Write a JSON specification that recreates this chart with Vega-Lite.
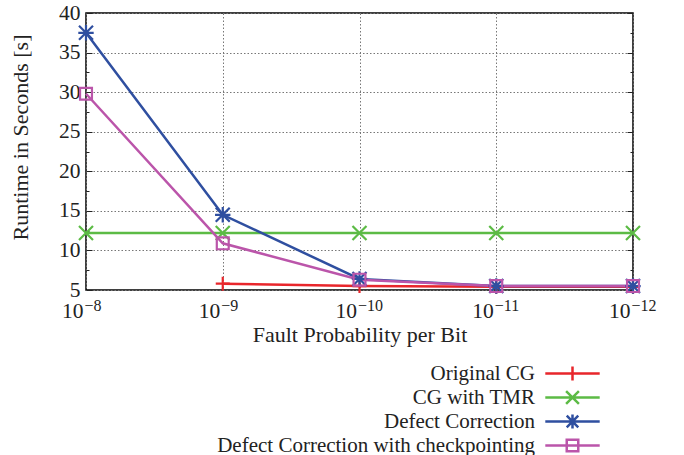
{
  "$schema": "https://vega.github.io/schema/vega-lite/v6.json",
  "width": 547,
  "height": 277,
  "autosize": "none",
  "padding": {"left": 86, "top": 13, "right": 51, "bottom": 165},
  "background": "white",
  "config": {
    "font": "Liberation Serif",
    "view": {"stroke": "black", "strokeWidth": 1.5},
    "axis": {
      "labelFont": "Liberation Serif",
      "titleFont": "Liberation Serif",
      "labelFontSize": 21.5,
      "titleFontSize": 22,
      "labelColor": "#222",
      "titleColor": "#222",
      "titleFontWeight": "normal",
      "domain": false,
      "tickColor": "#222"
    },
    "legend": {
      "labelFont": "Liberation Serif",
      "labelFontSize": 21,
      "labelColor": "#222"
    }
  },
  "data": {
    "values": [
      {"series": "Original CG", "exp": 9, "runtime": 5.8},
      {"series": "Original CG", "exp": 10, "runtime": 5.5},
      {"series": "Original CG", "exp": 11, "runtime": 5.4},
      {"series": "Original CG", "exp": 12, "runtime": 5.4},
      {"series": "CG with TMR", "exp": 8, "runtime": 12.2},
      {"series": "CG with TMR", "exp": 9, "runtime": 12.2},
      {"series": "CG with TMR", "exp": 10, "runtime": 12.2},
      {"series": "CG with TMR", "exp": 11, "runtime": 12.2},
      {"series": "CG with TMR", "exp": 12, "runtime": 12.2},
      {"series": "Defect Correction", "exp": 8, "runtime": 37.5},
      {"series": "Defect Correction", "exp": 9, "runtime": 14.5},
      {"series": "Defect Correction", "exp": 10, "runtime": 6.4},
      {"series": "Defect Correction", "exp": 11, "runtime": 5.5},
      {"series": "Defect Correction", "exp": 12, "runtime": 5.5},
      {"series": "Defect Correction with checkpointing", "exp": 8, "runtime": 29.8},
      {"series": "Defect Correction with checkpointing", "exp": 9, "runtime": 10.9},
      {"series": "Defect Correction with checkpointing", "exp": 10, "runtime": 6.3},
      {"series": "Defect Correction with checkpointing", "exp": 11, "runtime": 5.5},
      {"series": "Defect Correction with checkpointing", "exp": 12, "runtime": 5.5}
    ]
  },
  "resolve": {
    "scale": {"shape": "independent"},
    "axis": {"x": "independent", "y": "independent"},
    "legend": {"color": "independent", "shape": "independent"}
  },
  "layer": [
    {
      "mark": {"type": "line", "strokeWidth": 2.5, "clip": false},
      "encoding": {
        "x": {
          "field": "exp", "type": "quantitative",
          "scale": {"domain": [8, 12], "nice": false, "zero": false},
          "axis": {
            "orient": "bottom",
            "title": "Fault Probability per Bit",
            "values": [8, 9, 10, 11, 12],
            "labelExpr": "'10'",
            "labelAlign": "right",
            "labelBaseline": "alphabetic",
            "labelOffset": -3,
            "ticks": false,
            "labelPadding": 27,
            "titlePadding": 3,
            "grid": true,
            "gridColor": "#777",
            "gridDash": [1.5, 2],
            "gridWidth": 1
          }
        },
        "y": {
          "field": "runtime", "type": "quantitative",
          "scale": {"domain": [5, 40], "nice": false, "zero": false},
          "axis": {
            "title": "Runtime in Seconds [s]",
            "orient": "left",
            "values": [5, 7.5, 10, 12.5, 15, 17.5, 20, 22.5, 25, 27.5, 30, 32.5, 35, 37.5, 40],
            "labelExpr": "datum.value % 5 == 0 ? datum.label : ''",
            "tickSize": {"condition": {"test": "datum.value % 5 == 0", "value": -6}, "value": -3},
            "labelPadding": 12,
            "titlePadding": 26,
            "titleY": 124,
            "grid": true,
            "gridColor": "#777",
            "gridDash": [1.5, 2],
            "gridWidth": 1,
            "gridOpacity": {"condition": {"test": "datum.value % 5 == 0", "value": 1}, "value": 0}
          }
        },
        "color": {
          "field": "series", "type": "nominal",
          "scale": {
            "domain": ["Original CG", "CG with TMR", "Defect Correction", "Defect Correction with checkpointing"],
            "range": ["#e8262b", "#5cbb45", "#2f4fa0", "#bb55aa"]
          },
          "legend": null
        }
      }
    },
    {
      "mark": {"type": "point", "filled": false, "strokeWidth": 2.2, "size": 196, "opacity": 1, "clip": false},
      "encoding": {
        "x": {
          "field": "exp", "type": "quantitative",
          "axis": {
            "orient": "bottom",
            "title": null,
            "values": [8, 9, 10, 11, 12],
            "labelExpr": "'−' + datum.value",
            "labelAlign": "left",
            "labelBaseline": "alphabetic",
            "labelOffset": -2,
            "labelFontSize": 16,
            "ticks": false,
            "labelPadding": 20,
            "grid": false
          }
        },
        "y": {
          "field": "runtime", "type": "quantitative",
          "axis": {
            "orient": "right",
            "title": null,
            "labels": false,
            "grid": false,
            "values": [5, 7.5, 10, 12.5, 15, 17.5, 20, 22.5, 25, 27.5, 30, 32.5, 35, 37.5, 40],
            "tickSize": {"condition": {"test": "datum.value % 5 == 0", "value": -6}, "value": -3}
          }
        },
        "color": {"field": "series", "type": "nominal", "legend": null},
        "shape": {
          "field": "series", "type": "nominal",
          "scale": {
            "domain": ["Original CG", "CG with TMR", "Defect Correction", "Defect Correction with checkpointing"],
            "range": [
              "M-1,0H1M0,-1V1",
              "M-1,-1L1,1M-1,1L1,-1",
              "M-1,-1L1,1M-1,1L1,-1M0,-1.1V1.1M-1.1,0H1.1",
              "M-0.85,-0.85H0.85V0.85H-0.85Z"
            ]
          },
          "legend": null
        }
      }
    },
    {
      "transform": [{"filter": "false"}],
      "mark": {"type": "point", "filled": false, "strokeWidth": 2.5, "size": 256, "opacity": 1},
      "encoding": {
        "x": {"field": "exp", "type": "quantitative", "axis": null},
        "y": {"field": "runtime", "type": "quantitative", "axis": null},
        "color": {
          "field": "series", "type": "nominal",
          "legend": {
            "title": null,
            "orient": "none",
            "legendX": 476,
            "legendY": 350,
            "direction": "vertical",
            "rowPadding": 0,
            "labelAlign": "right",
            "labelOffset": -48,
            "symbolSize": 256,
            "symbolStrokeWidth": 2.5,
            "labelLimit": 0
          }
        },
        "shape": {
          "field": "series", "type": "nominal",
          "scale": {
            "domain": ["Original CG", "CG with TMR", "Defect Correction", "Defect Correction with checkpointing"],
            "range": [
              "M-3.4,0H3.4M0,-0.88V0.88",
              "M-3.4,0H3.4M-0.8,-0.8L0.8,0.8M-0.8,0.8L0.8,-0.8",
              "M-3.4,0H3.4M-0.72,-0.72L0.72,0.72M-0.72,0.72L0.72,-0.72M0,-0.88V0.88",
              "M-3.4,0H3.4M-0.72,-0.72H0.72V0.72H-0.72Z"
            ]
          },
          "legend": {
            "title": null,
            "orient": "none",
            "legendX": 476,
            "legendY": 350,
            "direction": "vertical",
            "rowPadding": 0,
            "labelAlign": "right",
            "labelOffset": -48,
            "symbolSize": 256,
            "symbolStrokeWidth": 2.5,
            "labelLimit": 0
          }
        }
      }
    }
  ]
}
